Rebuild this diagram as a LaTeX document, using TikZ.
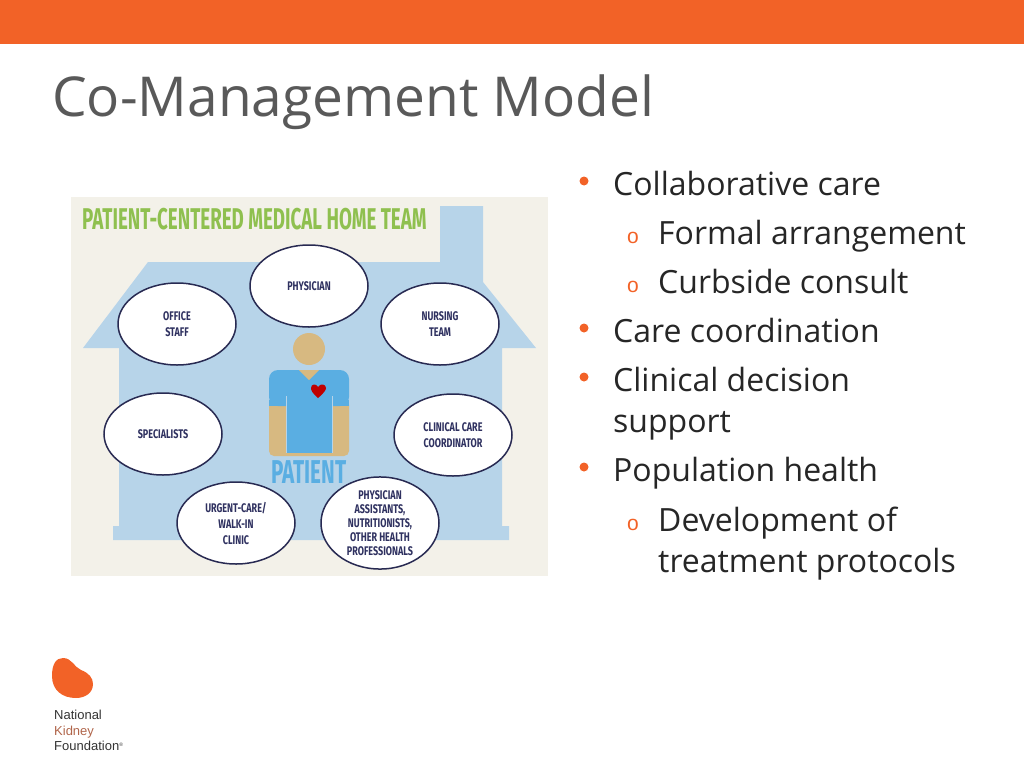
\documentclass[tikz,border=0pt]{standalone}
\usepackage{fontspec}
\usetikzlibrary{shapes.geometric}
\setmainfont{Open Sans}
\newfontfamily\posterfont[FakeStretch=0.625]{Fira Sans}
\newfontfamily\roomfont[FakeStretch=0.72]{Fira Sans}
\newfontfamily\logofont{Liberation Sans}
\definecolor{nkforange}{HTML}{F26227}
\definecolor{slidegrey}{HTML}{595959}
\definecolor{posterbg}{HTML}{F3F1E9}
\definecolor{houseblue}{HTML}{B7D4E9}
\definecolor{shirtblue}{HTML}{5AAEE2}
\definecolor{skintan}{HTML}{D7B981}
\definecolor{inkblue}{HTML}{2F3160}
\definecolor{teamgreen}{HTML}{8FC04F}
\definecolor{kidneybrown}{HTML}{B0654A}
\begin{document}
\begin{tikzpicture}[x=1pt,y=-1pt,
	room/.style={ellipse,draw=inkblue!85!black,line width=1.5pt,fill=white,minimum width=118pt,minimum height=82pt,inner sep=0pt,align=center,text=inkblue,font=\roomfont\bfseries\fontsize{12.5}{16}\selectfont},
	mainitem/.style={anchor=base west,text=black!85,inner sep=0pt,font=\fontsize{32}{38}\selectfont},
	subitem/.style={mainitem,align=left},
	dot/.style={circle,fill=nkforange,minimum size=9pt,inner sep=0pt},
	ring/.style={anchor=base,text=nkforange,inner sep=0pt,font=\logofont\fontsize{21}{21}\selectfont},
	logotext/.style={anchor=base west,inner sep=0pt,font=\logofont\fontsize{13}{13}\selectfont}]

	\useasboundingbox (0,0) rectangle (1024,768);

	% header
	\fill [nkforange] (0,0) rectangle (1024,44);
	\node [anchor=base west,inner sep=0pt,text=slidegrey,font=\fontsize{55}{60}\selectfont] (title) at (52,116) {Co-Management Model};

	% poster and house
	\fill [posterbg] (71,197) rectangle (548,576);
	\fill [houseblue] (440,206) -- (483,206) -- (483,282) -- (536,348) -- (502,348) -- (502,526) -- (509,526) -- (509,540) -- (113,540) -- (113,526) -- (119,526) -- (119,348) -- (83,348) -- (148,262) -- (440,262) -- cycle;
	\node [anchor=base west,inner sep=0pt,text=teamgreen,font=\posterfont\bfseries\fontsize{30}{30}\selectfont] (team) at (82,229) {PATIENT-CENTERED MEDICAL HOME TEAM};

	% patient
	\fill [skintan] (309,349) circle [radius=16];
	\fill [skintan, rounded corners=5pt] (269,400) rectangle (349,456);
	\fill [shirtblue, rounded corners=9pt] (269,406) -- (269,370) -- (349,370) -- (349,406) -- cycle;
	\fill [shirtblue] (269,400) rectangle (349,406);
	\fill [shirtblue] (287,395) rectangle (332,453);
	\fill [houseblue] (286,396) rectangle (287,453);
	\fill [houseblue] (332,396) rectangle (333,453);
	\fill [skintan] (299,370) -- (319,370) -- (309,380) -- cycle;
	\fill [red!75!black] (318,398) .. controls (312,393) and (311,390) .. (311,388) .. controls (311,384) and (316,383) .. (318,387) .. controls (320,383) and (326,384) .. (326,388) .. controls (326,390) and (324,393) .. (318,398) -- cycle;
	\node [inner sep=0pt,text=shirtblue,font=\posterfont\bfseries\fontsize{33}{33}\selectfont] (patient) at (309,472) {PATIENT};

	% team
	\node [room] (physician) at (309,286) {PHYSICIAN};
	\node [room] (office) at (177,324) {OFFICE\\STAFF};
	\node [room] (nursing) at (440,324) {NURSING\\TEAM};
	\node [room] (specialists) at (163,434) {SPECIALISTS};
	\node [room] (clinical) at (453,435) {CLINICAL CARE\\COORDINATOR};
	\node [room] (urgent) at (236,523) {URGENT-CARE/\\WALK-IN\\CLINIC};
	\node [room,font=\roomfont\bfseries\fontsize{12.5}{14}\selectfont] (assistants) at (380,523) {PHYSICIAN\\ASSISTANTS,\\NUTRITIONISTS,\\OTHER HEALTH\\PROFESSIONALS};

	% list
	\node [dot] (dota) at (584,181) {};
	\node [mainitem] (collab) at (613,195) {Collaborative care};
	\node [ring] (ringa) at (633,243) {o};
	\node [subitem] (formal) at (658,244) {Formal arrangement};
	\node [ring] (ringb) at (633,292) {o};
	\node [subitem] (curbside) at (658,293) {Curbside consult};
	\node [dot] (dotb) at (584,328) {};
	\node [mainitem] (coord) at (613,342) {Care coordination};
	\node [dot] (dotc) at (584,377) {};
	\node [mainitem] (clinicaldec) at (613,391) {Clinical decision};
	\node [mainitem] (support) at (613,432) {support};
	\node [dot] (dotd) at (584,467) {};
	\node [mainitem] (population) at (613,481) {Population health};
	\node [ring] (ringc) at (633,530) {o};
	\node [subitem] (develop) at (658,531) {Development of};
	\node [subitem] (protocols) at (658,572) {treatment protocols};

	% logo
	\fill [nkforange] (52,676) .. controls (52,664) and (56,658) .. (63,658) .. controls (72,658) and (74,667) .. (81,670) .. controls (89,673) and (93,678) .. (93,684) .. controls (93,693) and (85,698) .. (76,698) .. controls (62,698) and (52,690) .. (52,676) -- cycle;
	\node [logotext,text=black!80] (national) at (54,719) {National};
	\node [logotext,text=kidneybrown] (kidney) at (54,735) {Kidney};
	\node [logotext,text=black!80] (foundation) at (54,750) {Foundation\raisebox{4pt}{\fontsize{5}{5}\selectfont\textregistered}};

\end{tikzpicture}
\end{document}
